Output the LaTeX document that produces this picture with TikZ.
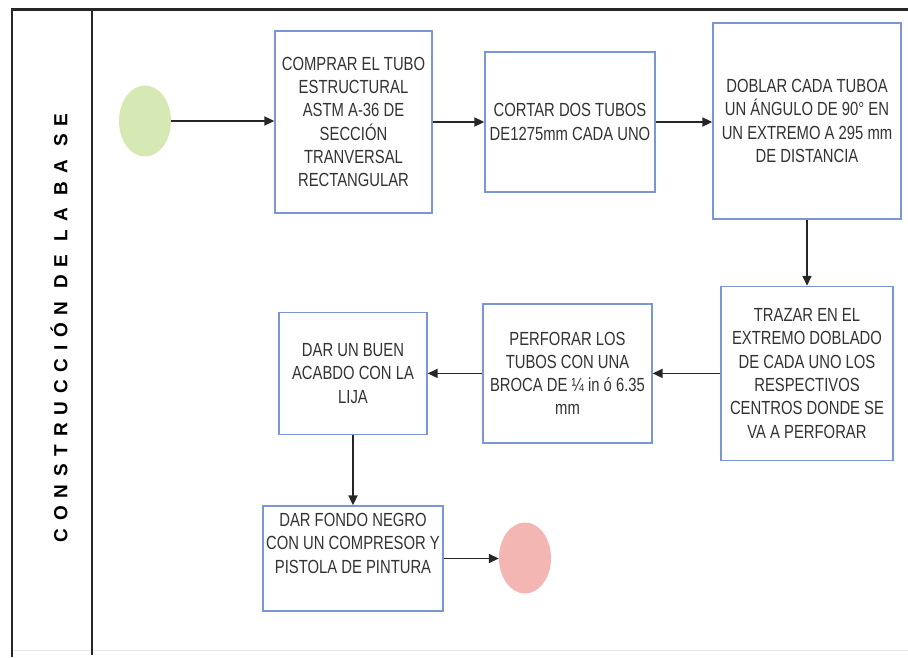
\documentclass[tikz,border=0pt]{standalone}
\usepackage{fontspec}
\setmainfont{Liberation Sans}[FakeStretch=0.78]
\newfontfamily\lanefont{Liberation Sans}[LetterSpace=41]
\usetikzlibrary{arrows.meta,shapes.geometric}
\definecolor{boxline}{HTML}{7B96D4}
\definecolor{boxtext}{HTML}{333333}
\definecolor{startfill}{HTML}{D6E9B5}
\definecolor{endfill}{HTML}{F4B6B3}
\tikzset{
  stepbox/.style={draw=boxline, line width=1.3pt, fill=white, rectangle,
    align=center, text=boxtext, inner sep=0pt,
    font=\fontsize{19}{23.3}\selectfont},
  terminal/.style={ellipse, draw=none, minimum width=52pt, minimum height=71pt, inner sep=0pt},
  flow/.style={line width=1.7pt, draw=black!85, -{Triangle[length=10pt,width=9pt]}},
  frame/.style={line width=2.4pt, draw=black!85}
}
\begin{document}
\begin{tikzpicture}[x=1pt,y=-1pt]
\useasboundingbox (0,0) rectangle (908,657);

% swimlane frame
\draw[black!8, line width=1pt] (12,650) -- (908,650);
\draw[frame] (908,9.5) -- (12,9.5) -- (12,657);
\draw[frame] (92,9.5) -- (92,655);
\node[rotate=90, font=\lanefont\bfseries\fontsize{19}{22}\selectfont] (lane) at (59,328) {CONSTRUCCIÓN DE LA BA SE};

% start and end events
\node[terminal, fill=startfill] (start) at (145,121) {};
\node[terminal, fill=endfill] (finish) at (525,558) {};

% process steps
\node[stepbox, minimum width=157pt, minimum height=182pt] (b1) at (353.5,122)
  {COMPRAR EL TUBO\\ESTRUCTURAL\\ASTM A-36 DE\\SECCIÓN\\TRANVERSAL\\RECTANGULAR};
\node[stepbox, minimum width=170pt, minimum height=140pt] (b2) at (570,122)
  {CORTAR DOS TUBOS\\DE1275mm CADA UNO};
\node[stepbox, minimum width=188pt, minimum height=196pt] (b3) at (807,121)
  {DOBLAR CADA TUBOA\\UN ÁNGULO DE 90° EN\\UN EXTREMO A 295 mm\\DE DISTANCIA};
\node[stepbox, minimum width=172pt, minimum height=174pt] (b4) at (807,373.4)
  {TRAZAR EN EL\\EXTREMO DOBLADO\\DE CADA UNO LOS\\RESPECTIVOS\\CENTROS DONDE SE\\VA A PERFORAR};
\node[stepbox, minimum width=169pt, minimum height=139pt] (b5) at (567.5,373.4)
  {PERFORAR LOS\\TUBOS CON UNA\\BROCA DE ¼ in ó 6.35\\mm};
\node[stepbox, minimum width=148pt, minimum height=122pt] (b6) at (353,373.4)
  {DAR UN BUEN\\ACABDO CON LA\\LIJA};
\node[stepbox, minimum width=180pt, minimum height=105pt] (b7) at (353,558.5)
  {DAR FONDO NEGRO\\CON UN COMPRESOR Y\\PISTOLA DE PINTURA\\ \strut};

% connectors
\draw[flow] (start.east) -- (start.east -| b1.west);
\draw[flow] (b1.east) -- (b1.east -| b2.west);
\draw[flow] (b2.east) -- (b2.east -| b3.west);
\draw[flow] (b3.south) -- (b3.south |- b4.north);
\draw[flow] (b4.west) -- (b4.west -| b5.east);
\draw[flow] (b5.west) -- (b5.west -| b6.east);
\draw[flow] (b6.south) -- (b6.south |- b7.north);
\draw[flow] (b7.east) -- (b7.east -| finish.west);
\end{tikzpicture}
\end{document}
